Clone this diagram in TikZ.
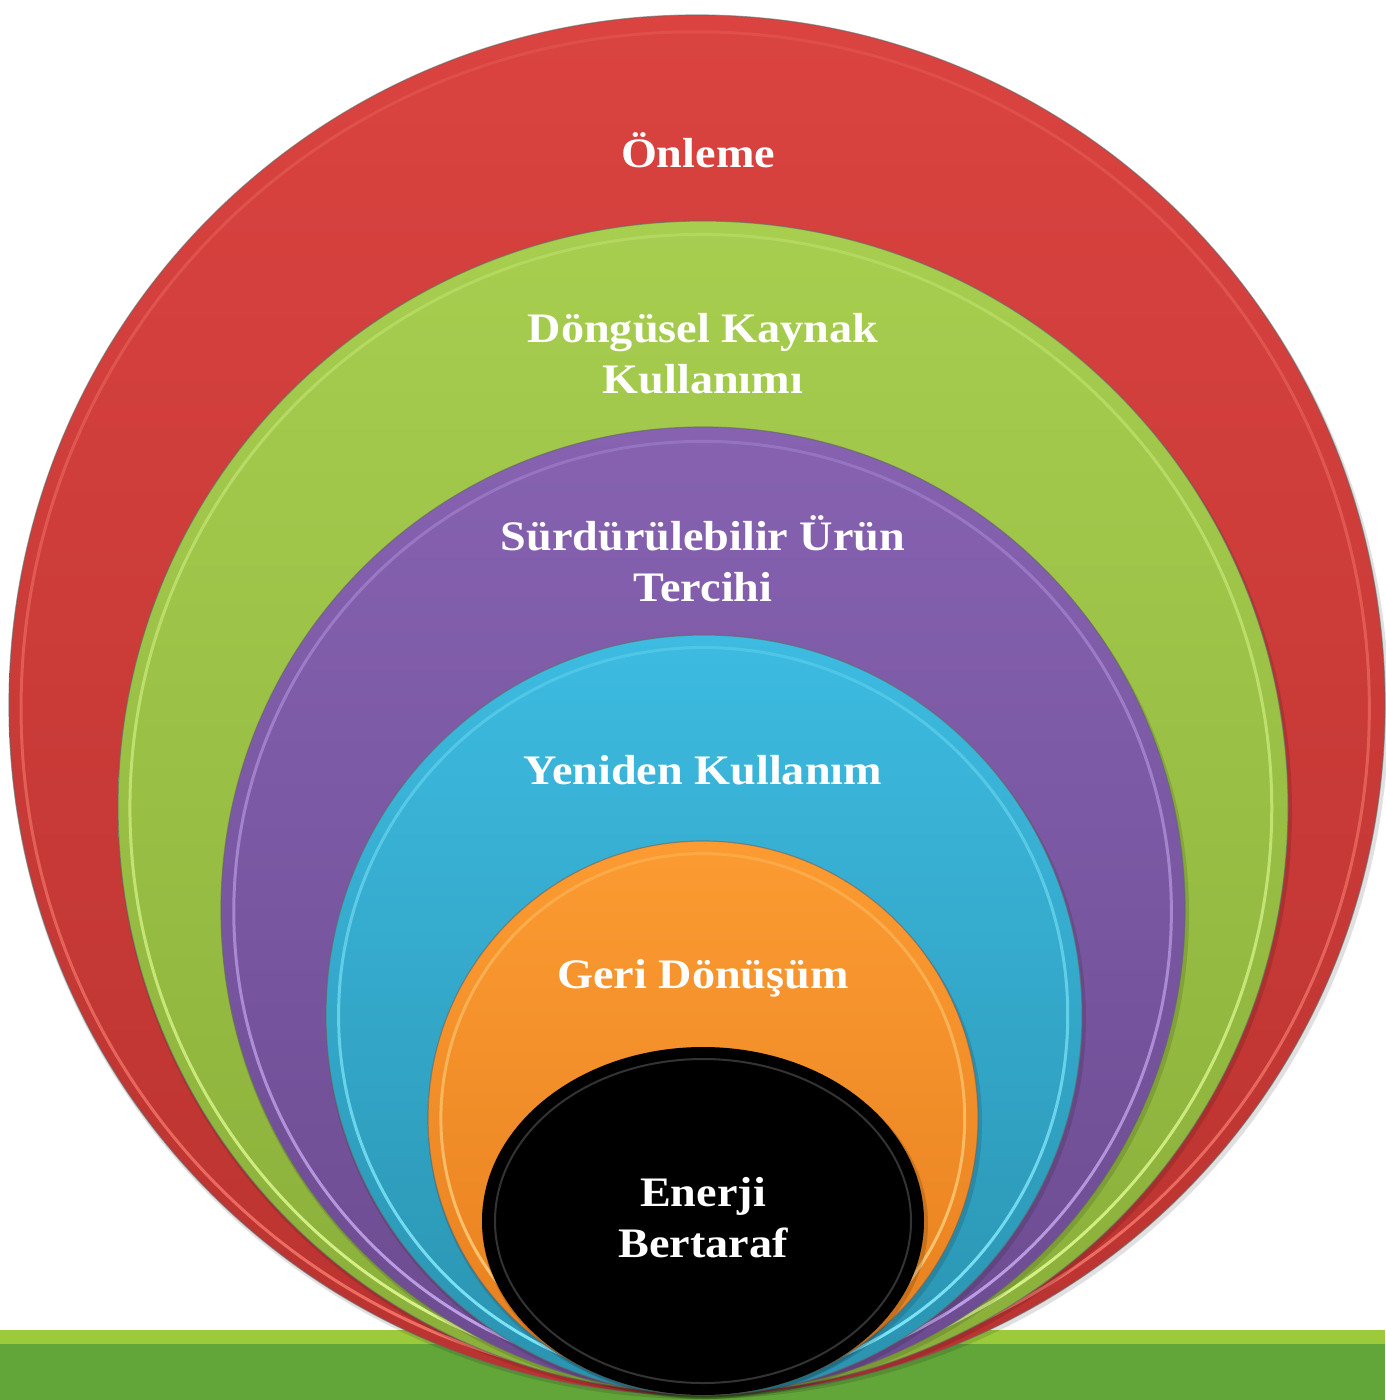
\documentclass[tikz,border=0pt]{standalone}
\usepackage{fontspec}
\setmainfont{Liberation Serif}[FakeStretch=1.1]
\usetikzlibrary{shadings,fadings}
\definecolor{redT}{HTML}{DA4340}
\definecolor{redB}{HTML}{BA3330}
\definecolor{redL}{HTML}{F27468}
\definecolor{greenT}{HTML}{A7CE4F}
\definecolor{greenB}{HTML}{8AAF3A}
\definecolor{greenL}{HTML}{DDF890}
\definecolor{purpT}{HTML}{8662B1}
\definecolor{purpB}{HTML}{6C4B90}
\definecolor{purpL}{HTML}{C6A8F0}
\definecolor{blueT}{HTML}{3DBBE1}
\definecolor{blueB}{HTML}{2A93B0}
\definecolor{blueL}{HTML}{85EBFF}
\definecolor{oranT}{HTML}{FC9B32}
\definecolor{oranB}{HTML}{E67F1E}
\definecolor{oranL}{HTML}{FFD584}
\definecolor{barL}{HTML}{9BCB3A}
\definecolor{barD}{HTML}{62A538}
\tikzfading[name=ringfade, top color=transparent!75, bottom color=transparent!5]
\tikzset{
  lbl/.style={text=white, font=\bfseries\fontsize{42}{51}\selectfont, align=center, inner sep=0pt},
  rim/.style={line width=1.2pt, draw=black!60, draw opacity=0.6},
  ring/.style={line width=3pt, path fading=ringfade},
  shadowfill/.style={fill=black, opacity=0.12},
}
\begin{document}
\begin{tikzpicture}[x=1pt,y=-1pt]
\useasboundingbox (0,0) rectangle (1385,1400);
\fill[white] (0,0) rectangle (1385,1400);
\fill[barL] (0,1330) rectangle (1385,1344);
\fill[barD] (0,1344) rectangle (1385,1400);
% red
\fill[shadowfill] (699,709) ellipse [x radius=690, y radius=690];
\shade[top color=redT, bottom color=redB] (697,705) ellipse [x radius=688, y radius=690];
\draw[ring, redL] (697,705) ellipse [x radius=675, y radius=678];
\draw[rim] (697,705) ellipse [x radius=688, y radius=690];
% green
\fill[shadowfill] (705,811) ellipse [x radius=587, y radius=586];
\shade[top color=greenT, bottom color=greenB] (703,807) ellipse [x radius=585, y radius=586];
\draw[ring, greenL] (703,807) ellipse [x radius=572, y radius=574];
\draw[rim] (703,807) ellipse [x radius=585, y radius=586];
% purple
\fill[shadowfill] (705,914) ellipse [x radius=484, y radius=483];
\shade[top color=purpT, bottom color=purpB] (703,910) ellipse [x radius=482, y radius=483];
\draw[ring, purpL] (703,910) ellipse [x radius=469, y radius=471];
\draw[rim] (703,910) ellipse [x radius=482, y radius=483];
% blue
\fill[shadowfill] (706,1019) ellipse [x radius=380, y radius=380];
\shade[top color=blueT, bottom color=blueB] (704,1015) ellipse [x radius=378, y radius=380];
\draw[ring, blueL] (704,1015) ellipse [x radius=365, y radius=368];
\draw[rim] (704,1015) ellipse [x radius=378, y radius=380];
% orange
\fill[shadowfill] (705,1122) ellipse [x radius=277, y radius=277];
\shade[top color=oranT, bottom color=oranB] (703,1118) ellipse [x radius=275, y radius=277];
\draw[ring, oranL] (703,1118) ellipse [x radius=262, y radius=265];
\draw[rim] (703,1118) ellipse [x radius=275, y radius=277];
% black
\fill[black, opacity=0.15] (705,1224) ellipse [x radius=223, y radius=174];
\fill[black] (703,1221) ellipse [x radius=221, y radius=174];
\draw[white, line width=2pt, opacity=0.2] (703,1221) ellipse [x radius=208, y radius=162];
% labels
\node[lbl] (onleme) at (698,150) {Önleme};
\node[lbl] (dongu) at (703,354) {Döngüsel Kaynak\\Kullanımı};
\node[lbl] (surd) at (703,559) {Sürdürülebilir Ürün\\Tercihi};
\node[lbl] (yeni) at (703,770) {Yeniden Kullanım};
\node[lbl] (geri) at (703,978) {Geri Dönüşüm};
\node[lbl] (enerji) at (703,1218) {Enerji\\Bertaraf};
\end{tikzpicture}
\end{document}
